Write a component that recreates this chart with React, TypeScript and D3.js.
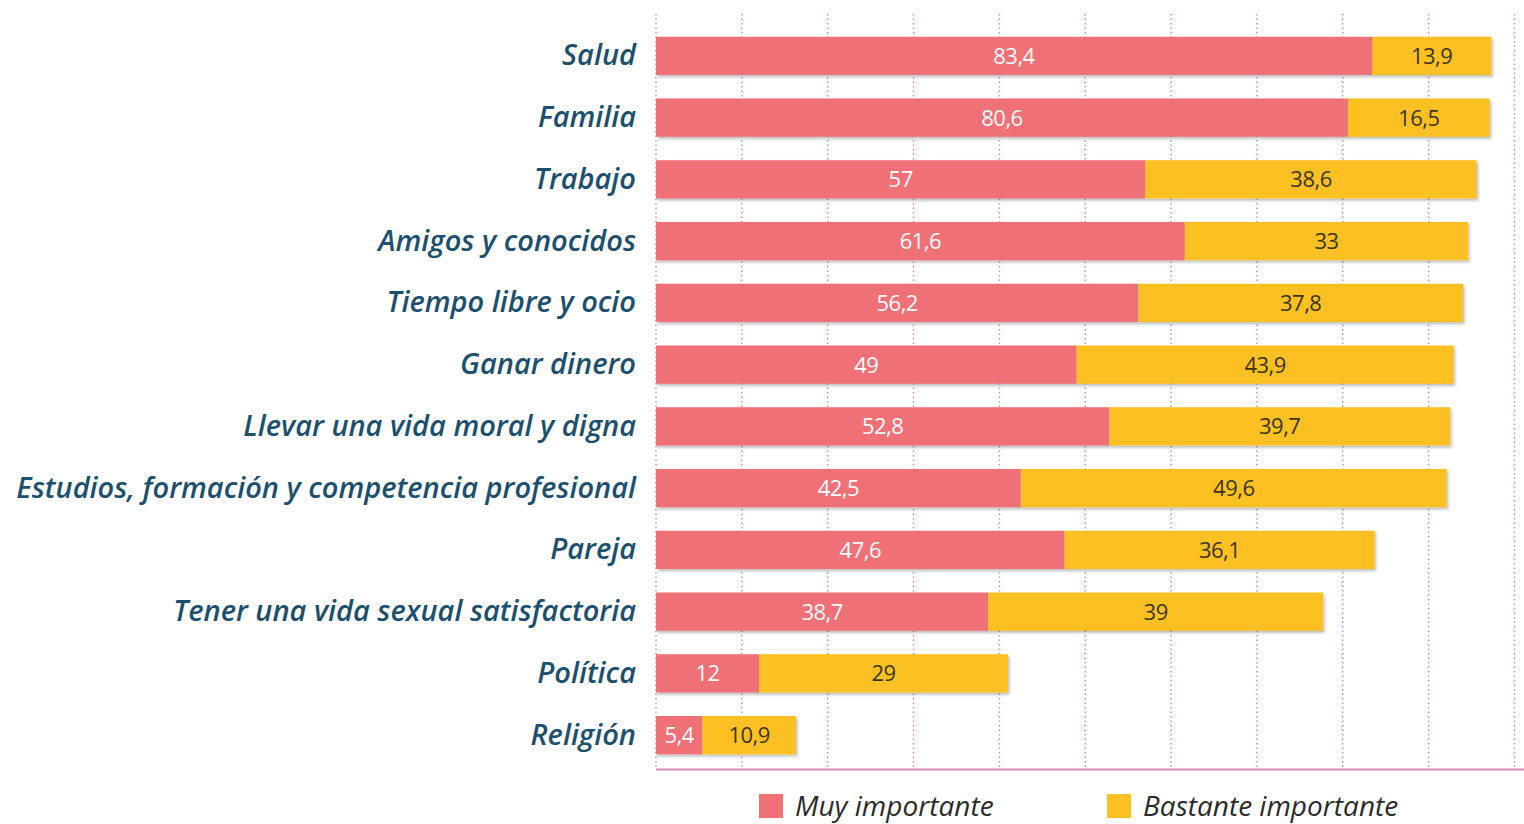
import React from "react";
import * as d3 from "d3";

const categories = [
  "Salud",
  "Familia",
  "Trabajo",
  "Amigos y conocidos",
  "Tiempo libre y ocio",
  "Ganar dinero",
  "Llevar una vida moral y digna",
  "Estudios, formación y competencia profesional",
  "Pareja",
  "Tener una vida sexual satisfactoria",
  "Política",
  "Religión",
];
const muyImportante = [83.4, 80.6, 57, 61.6, 56.2, 49, 52.8, 42.5, 47.6, 38.7, 12, 5.4];
const bastanteImportante = [13.9, 16.5, 38.6, 33, 37.8, 43.9, 39.7, 49.6, 36.1, 39, 29, 10.9];
const seriesNames = ["Muy importante", "Bastante importante"];
const gridTicks = [0, 10, 20, 30, 40, 50, 60, 70, 80, 90, 100];

const W = 1524;
const H = 824;
const PINK = "#f07077";
const YELLOW = "#fdc021";
const GRID = "#d98bb8";
const LABEL = "#1d4f6e";
const FONT = "'Open Sans', 'DejaVu Sans', sans-serif";

const fmt = (v: number) => String(v).replace(".", ",");

export default function App() {
  const x = d3.scaleLinear().domain([0, 100]).range([656, 1514.5]);
  const y = d3
    .scaleBand<string>()
    .domain(categories)
    .range([25, 766])
    .paddingInner(0.38)
    .paddingOuter(0.19);
  const bh = y.bandwidth();

  return (
    <svg width={W} height={H} style={{ position: "absolute", left: 0, top: 0, background: "#fff" }}>
      <defs>
        <filter id="sh" x="-5%" y="-20%" width="110%" height="150%">
          <feDropShadow dx="1.5" dy="2" stdDeviation="1.5" floodColor="#000" floodOpacity="0.28" />
        </filter>
      </defs>
      {gridTicks.map((t) => (
        <line
          key={t}
          x1={x(t)}
          x2={x(t)}
          y1={14}
          y2={769}
          stroke={GRID}
          strokeWidth={1.5}
          strokeDasharray="1.5 3"
        />
      ))}
      <line x1={656} x2={1524} y1={769.5} y2={769.5} stroke={GRID} strokeWidth={2} />
      {categories.map((c, i) => {
        const a = muyImportante[i];
        const b = bastanteImportante[i];
        const y0 = y(c)!;
        const cy = y0 + bh / 2;
        return (
          <g key={c}>
            <g filter="url(#sh)">
              <rect x={x(0)} y={y0} width={x(a) - x(0)} height={bh} fill={PINK} />
              <rect x={x(a)} y={y0} width={x(a + b) - x(a)} height={bh} fill={YELLOW} />
            </g>
            <text
              x={(x(0) + x(a)) / 2}
              y={cy}
              dy="0.36em"
              textAnchor="middle"
              fill="#fff"
              fontFamily={FONT}
              fontSize={22}
              letterSpacing={-0.5}
            >
              {fmt(a)}
            </text>
            <text
              x={(x(a) + x(a + b)) / 2}
              y={cy}
              dy="0.36em"
              textAnchor="middle"
              fill="#3b3518"
              fontFamily={FONT}
              fontSize={22}
              letterSpacing={-0.5}
            >
              {fmt(b)}
            </text>
            <text
              x={636}
              y={cy}
              dy="0.33em"
              textAnchor="end"
              fill={LABEL}
              fontFamily={FONT}
              fontStyle="italic"
              fontWeight={600}
              fontSize={29}
              letterSpacing={0}
            >
              {c}
            </text>
          </g>
        );
      })}
      {seriesNames.map((s, i) => {
        const lx = i === 0 ? 759 : 1107;
        return (
          <g key={s}>
            <rect x={lx} y={794} width={24} height={24} fill={i === 0 ? PINK : YELLOW} />
            <text
              x={lx + 36}
              y={816}
              fill="#2b2b2b"
              fontFamily={FONT}
              fontStyle="italic"
              fontSize={28}
              letterSpacing={0}
            >
              {s}
            </text>
          </g>
        );
      })}
    </svg>
  );
}
